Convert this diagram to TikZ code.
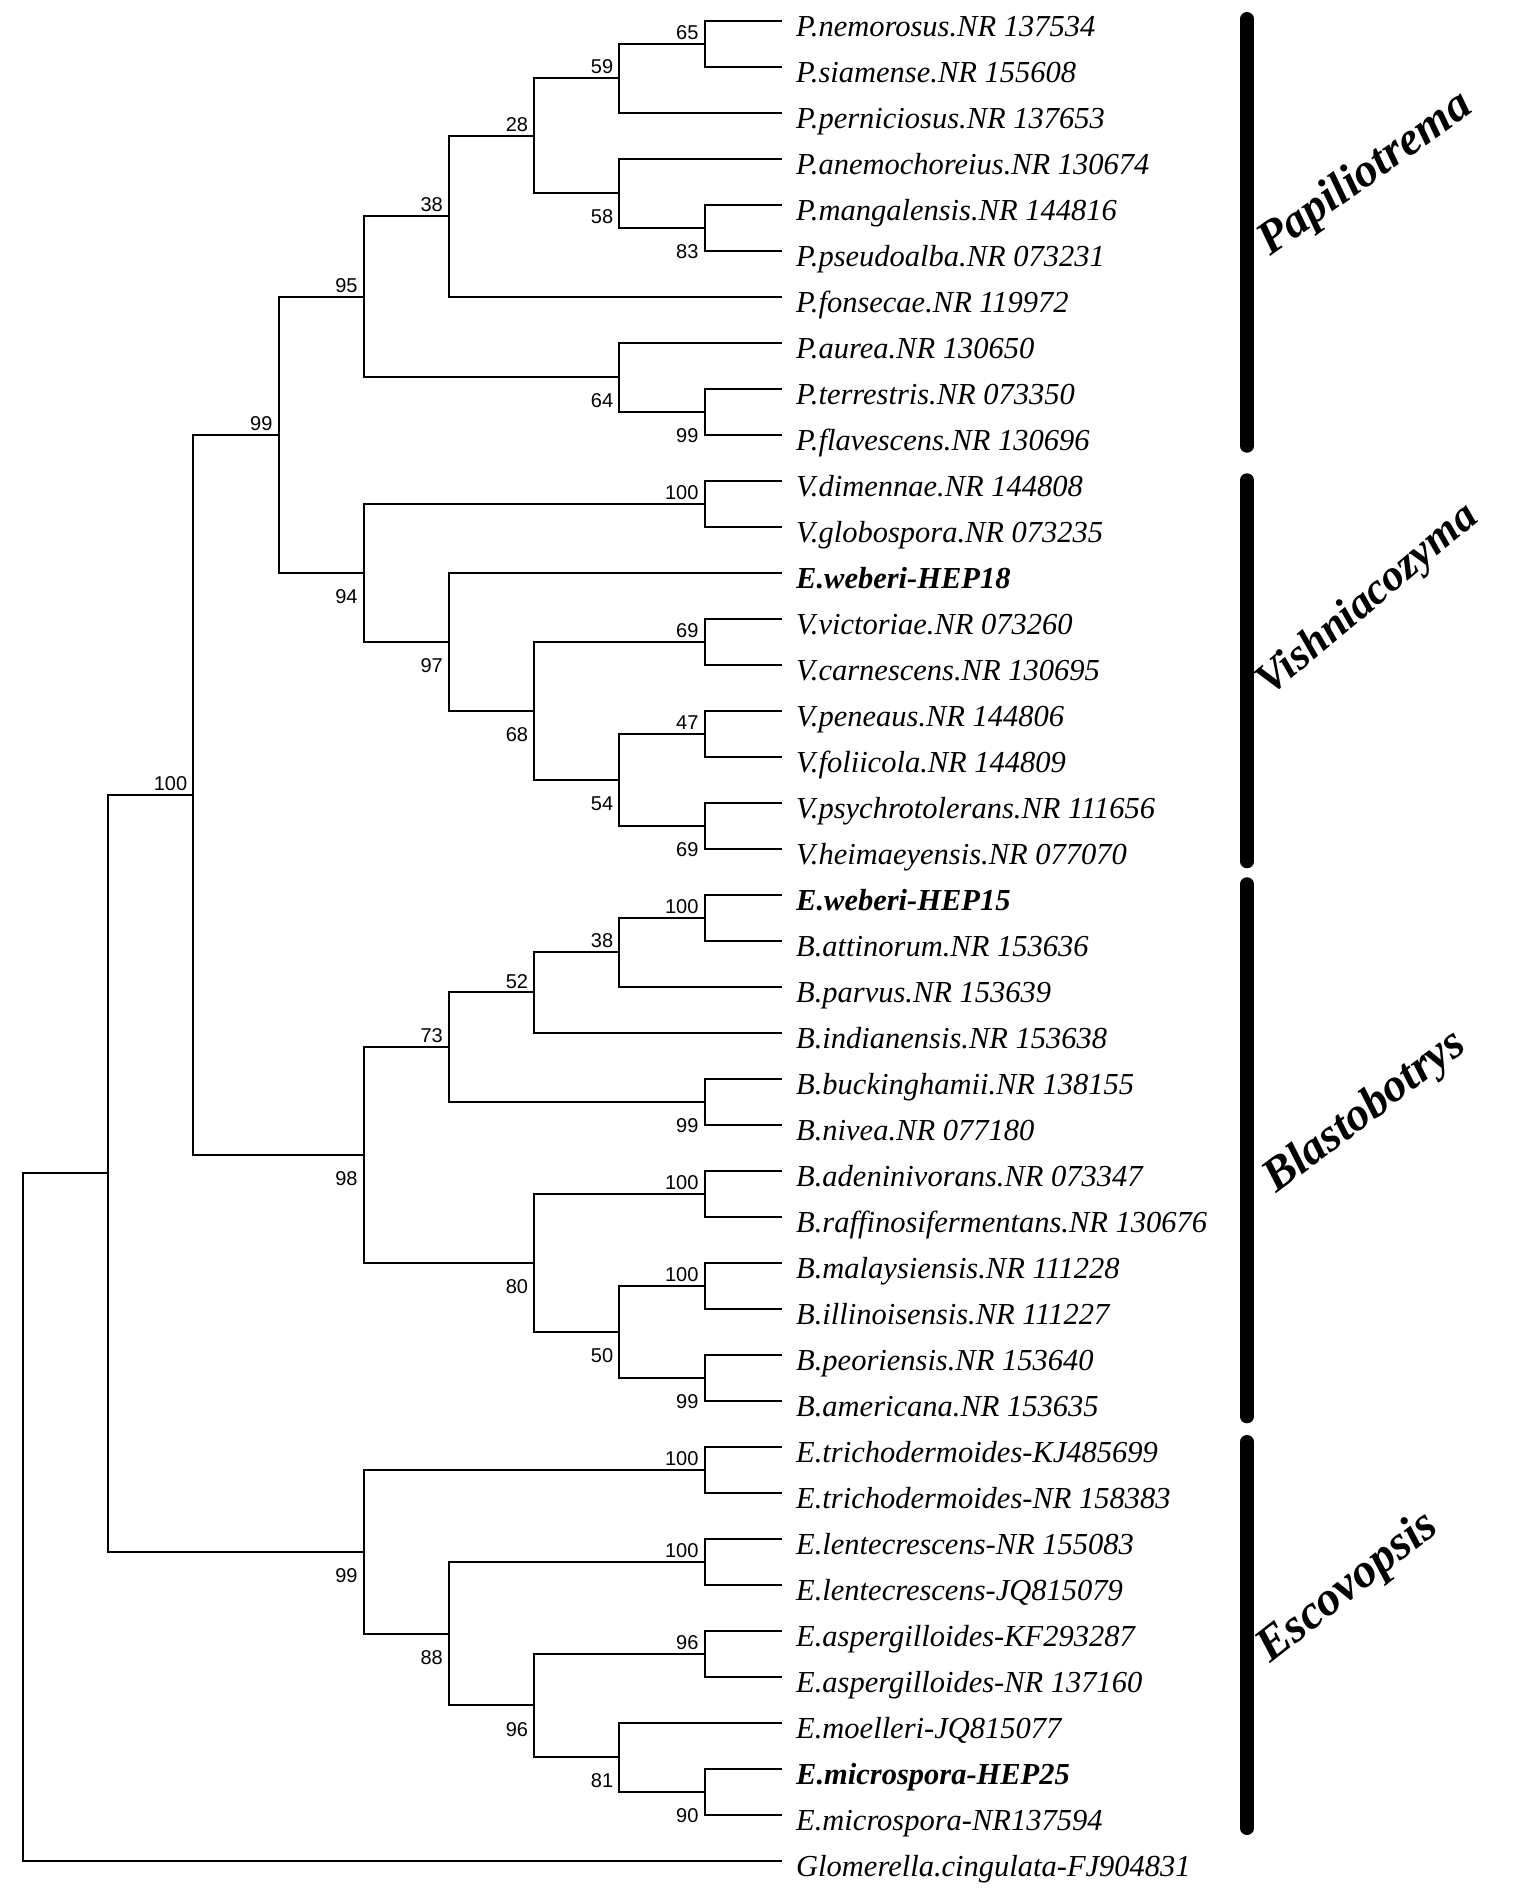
\documentclass[tikz,border=0pt]{standalone}
\usepackage{fontspec}
\setmainfont{Liberation Serif}
\newfontfamily\numfont{Liberation Sans}
\tikzset{
  branch/.style={line width=2pt},
  taxon/.style={anchor=base west, inner sep=0pt, xshift=14pt, yshift=-15.5pt,
    font=\fontsize{30.5}{36}\selectfont\itshape},
  isolate/.style={taxon, font=\fontsize{30.5}{36}\selectfont\bfseries\itshape},
  bsabove/.style={anchor=south east, inner sep=0pt, xshift=-6pt, yshift=4pt,
    font=\fontsize{20}{24}\selectfont\numfont},
  bsbelow/.style={anchor=north east, inner sep=0pt, xshift=-6pt, yshift=-16.5pt,
    font=\fontsize{20}{24}\selectfont\numfont},
  cladebar/.style={line width=13.5pt, line cap=round},
  clade/.style={anchor=base west, inner sep=0pt,
    font=\fontsize{47}{56}\selectfont\bfseries\itshape}
}
\begin{document}
\begin{tikzpicture}[x=1pt, y=-46pt]
  \useasboundingbox (0pt,0pt) rectangle (1535pt,-1891pt);
  \begin{scope}[yshift=25.3pt]

   \foreach \i in {1,...,41} \coordinate (l\i) at (782,\i);

   % Papiliotrema
   \coordinate (n65) at (704.6,1.5);
   \coordinate (n59) at (619.4,2.25);
   \coordinate (n83) at (704.6,5.5);
   \coordinate (n58) at (619.4,4.75);
   \coordinate (n28) at (534.2,3.5);
   \coordinate (n38) at (449,5.25);
   \coordinate (p99) at (704.6,9.5);
   \coordinate (n64) at (619.4,8.75);
   \coordinate (n95) at (363.8,7);
   % Vishniacozyma
   \coordinate (v100) at (704.6,11.5);
   \coordinate (v69a) at (704.6,14.5);
   \coordinate (v47) at (704.6,16.5);
   \coordinate (v69b) at (704.6,18.5);
   \coordinate (v54) at (619.4,17.5);
   \coordinate (v68) at (534.2,16);
   \coordinate (v97) at (449,14.5);
   \coordinate (v94) at (363.8,13);
   \coordinate (pv99) at (278.6,10);
   % Blastobotrys
   \coordinate (b100a) at (704.6,20.5);
   \coordinate (b38) at (619.4,21.25);
   \coordinate (b52) at (534.2,22.125);
   \coordinate (b99a) at (704.6,24.5);
   \coordinate (b73) at (449,23.3125);
   \coordinate (b100b) at (704.6,26.5);
   \coordinate (b100c) at (704.6,28.5);
   \coordinate (b99b) at (704.6,30.5);
   \coordinate (b50) at (619.4,29.5);
   \coordinate (b80) at (534.2,28);
   \coordinate (b98) at (363.8,25.65625);
   \coordinate (in100) at (193.4,17.828125);
   % Escovopsis
   \coordinate (e100a) at (704.6,32.5);
   \coordinate (e100b) at (704.6,34.5);
   \coordinate (e96a) at (704.6,36.5);
   \coordinate (e90) at (704.6,39.5);
   \coordinate (e81) at (619.4,38.75);
   \coordinate (e96b) at (534.2,37.625);
   \coordinate (e88) at (449,36.0625);
   \coordinate (e99) at (363.8,34.28125);
   \coordinate (ingroup) at (108.2,26.0546875);
   \coordinate (root) at (23,33.52734375);

   \draw[branch] (l1) -| (n65) |- (l2);
   \draw[branch] (n65) -| (n59) |- (l3);
   \draw[branch] (l5) -| (n83) |- (l6);
   \draw[branch] (l4) -| (n58) |- (n83);
   \draw[branch] (n59) -| (n28) |- (n58);
   \draw[branch] (n28) -| (n38) |- (l7);
   \draw[branch] (l9) -| (p99) |- (l10);
   \draw[branch] (l8) -| (n64) |- (p99);
   \draw[branch] (n38) -| (n95) |- (n64);
   \draw[branch] (l11) -| (v100) |- (l12);
   \draw[branch] (l14) -| (v69a) |- (l15);
   \draw[branch] (l16) -| (v47) |- (l17);
   \draw[branch] (l18) -| (v69b) |- (l19);
   \draw[branch] (v47) -| (v54) |- (v69b);
   \draw[branch] (v69a) -| (v68) |- (v54);
   \draw[branch] (l13) -| (v97) |- (v68);
   \draw[branch] (v100) -| (v94) |- (v97);
   \draw[branch] (n95) -| (pv99) |- (v94);
   \draw[branch] (l20) -| (b100a) |- (l21);
   \draw[branch] (b100a) -| (b38) |- (l22);
   \draw[branch] (b38) -| (b52) |- (l23);
   \draw[branch] (l24) -| (b99a) |- (l25);
   \draw[branch] (b52) -| (b73) |- (b99a);
   \draw[branch] (l26) -| (b100b) |- (l27);
   \draw[branch] (l28) -| (b100c) |- (l29);
   \draw[branch] (l30) -| (b99b) |- (l31);
   \draw[branch] (b100c) -| (b50) |- (b99b);
   \draw[branch] (b100b) -| (b80) |- (b50);
   \draw[branch] (b73) -| (b98) |- (b80);
   \draw[branch] (pv99) -| (in100) |- (b98);
   \draw[branch] (l32) -| (e100a) |- (l33);
   \draw[branch] (l34) -| (e100b) |- (l35);
   \draw[branch] (l36) -| (e96a) |- (l37);
   \draw[branch] (l39) -| (e90) |- (l40);
   \draw[branch] (l38) -| (e81) |- (e90);
   \draw[branch] (e96a) -| (e96b) |- (e81);
   \draw[branch] (e100b) -| (e88) |- (e96b);
   \draw[branch] (e100a) -| (e99) |- (e88);
   \draw[branch] (in100) -| (ingroup) |- (e99);
   \draw[branch] (ingroup) -| (root) |- (l41);

   \node[bsabove] (s65) at (n65) {65};
   \node[bsabove] (s59) at (n59) {59};
   \node[bsbelow] (s83) at (n83) {83};
   \node[bsbelow] (s58) at (n58) {58};
   \node[bsabove] (s28) at (n28) {28};
   \node[bsabove] (s38) at (n38) {38};
   \node[bsbelow] (sp99) at (p99) {99};
   \node[bsbelow] (s64) at (n64) {64};
   \node[bsabove] (s95) at (n95) {95};
   \node[bsabove] (spv99) at (pv99) {99};
   \node[bsabove] (sv100) at (v100) {100};
   \node[bsbelow] (sv94) at (v94) {94};
   \node[bsbelow] (sv97) at (v97) {97};
   \node[bsabove] (sv69a) at (v69a) {69};
   \node[bsbelow] (sv68) at (v68) {68};
   \node[bsabove] (sv47) at (v47) {47};
   \node[bsbelow] (sv54) at (v54) {54};
   \node[bsbelow] (sv69b) at (v69b) {69};
   \node[bsabove] (sin100) at (in100) {100};
   \node[bsabove] (sb100a) at (b100a) {100};
   \node[bsabove] (sb38) at (b38) {38};
   \node[bsabove] (sb52) at (b52) {52};
   \node[bsabove] (sb73) at (b73) {73};
   \node[bsbelow] (sb99a) at (b99a) {99};
   \node[bsbelow] (sb98) at (b98) {98};
   \node[bsabove] (sb100b) at (b100b) {100};
   \node[bsbelow] (sb80) at (b80) {80};
   \node[bsabove] (sb100c) at (b100c) {100};
   \node[bsbelow] (sb50) at (b50) {50};
   \node[bsbelow] (sb99b) at (b99b) {99};
   \node[bsabove] (se100a) at (e100a) {100};
   \node[bsbelow] (se99) at (e99) {99};
   \node[bsabove] (se100b) at (e100b) {100};
   \node[bsbelow] (se88) at (e88) {88};
   \node[bsabove] (se96a) at (e96a) {96};
   \node[bsbelow] (se96b) at (e96b) {96};
   \node[bsbelow] (se81) at (e81) {81};
   \node[bsbelow] (se90) at (e90) {90};

   \node[taxon] (t1) at (l1) {P.nemorosus.NR 137534};
   \node[taxon] (t2) at (l2) {P.siamense.NR 155608};
   \node[taxon] (t3) at (l3) {P.perniciosus.NR 137653};
   \node[taxon] (t4) at (l4) {P.anemochoreius.NR 130674};
   \node[taxon] (t5) at (l5) {P.mangalensis.NR 144816};
   \node[taxon] (t6) at (l6) {P.pseudoalba.NR 073231};
   \node[taxon] (t7) at (l7) {P.fonsecae.NR 119972};
   \node[taxon] (t8) at (l8) {P.aurea.NR 130650};
   \node[taxon] (t9) at (l9) {P.terrestris.NR 073350};
   \node[taxon] (t10) at (l10) {P.flavescens.NR 130696};
   \node[taxon] (t11) at (l11) {V.dimennae.NR 144808};
   \node[taxon] (t12) at (l12) {V.globospora.NR 073235};
   \node[isolate] (t13) at (l13) {E.weberi-HEP18};
   \node[taxon] (t14) at (l14) {V.victoriae.NR 073260};
   \node[taxon] (t15) at (l15) {V.carnescens.NR 130695};
   \node[taxon] (t16) at (l16) {V.peneaus.NR 144806};
   \node[taxon] (t17) at (l17) {V.foliicola.NR 144809};
   \node[taxon] (t18) at (l18) {V.psychrotolerans.NR 111656};
   \node[taxon] (t19) at (l19) {V.heimaeyensis.NR 077070};
   \node[isolate] (t20) at (l20) {E.weberi-HEP15};
   \node[taxon] (t21) at (l21) {B.attinorum.NR 153636};
   \node[taxon] (t22) at (l22) {B.parvus.NR 153639};
   \node[taxon] (t23) at (l23) {B.indianensis.NR 153638};
   \node[taxon] (t24) at (l24) {B.buckinghamii.NR 138155};
   \node[taxon] (t25) at (l25) {B.nivea.NR 077180};
   \node[taxon] (t26) at (l26) {B.adeninivorans.NR 073347};
   \node[taxon] (t27) at (l27) {B.raffinosifermentans.NR 130676};
   \node[taxon] (t28) at (l28) {B.malaysiensis.NR 111228};
   \node[taxon] (t29) at (l29) {B.illinoisensis.NR 111227};
   \node[taxon] (t30) at (l30) {B.peoriensis.NR 153640};
   \node[taxon] (t31) at (l31) {B.americana.NR 153635};
   \node[taxon] (t32) at (l32) {E.trichodermoides-KJ485699};
   \node[taxon] (t33) at (l33) {E.trichodermoides-NR 158383};
   \node[taxon] (t34) at (l34) {E.lentecrescens-NR 155083};
   \node[taxon] (t35) at (l35) {E.lentecrescens-JQ815079};
   \node[taxon] (t36) at (l36) {E.aspergilloides-KF293287};
   \node[taxon] (t37) at (l37) {E.aspergilloides-NR 137160};
   \node[taxon] (t38) at (l38) {E.moelleri-JQ815077};
   \node[isolate] (t39) at (l39) {E.microspora-HEP25};
   \node[taxon] (t40) at (l40) {E.microspora-NR137594};
   \node[taxon] (t41) at (l41) {Glomerella.cingulata-FJ904831};

   % clades
   \draw[cladebar] (1247,0.958) -- (1247,10.245);
   \draw[cladebar] (1247,10.986) -- (1247,19.279);
   \draw[cladebar] (1247,19.768) -- (1247,31.345);
   \draw[cladebar] (1247,31.892) -- (1247,40.295);
   \node[clade, rotate=35.5] (pap) at (1270,6.137) {Papiliotrema};
   \node[clade, rotate=40, font=\fontsize{44}{52}\selectfont\bfseries\itshape] (vis) at (1270,15.702) {Vishniacozyma};
   \node[clade, rotate=37] (bla) at (1276,26.507) {Blastobotrys};
   \node[clade, rotate=38, font=\fontsize{48}{56}\selectfont\bfseries\itshape] (esc) at (1270,36.72) {Escovopsis};
  \end{scope}
\end{tikzpicture}
\end{document}
